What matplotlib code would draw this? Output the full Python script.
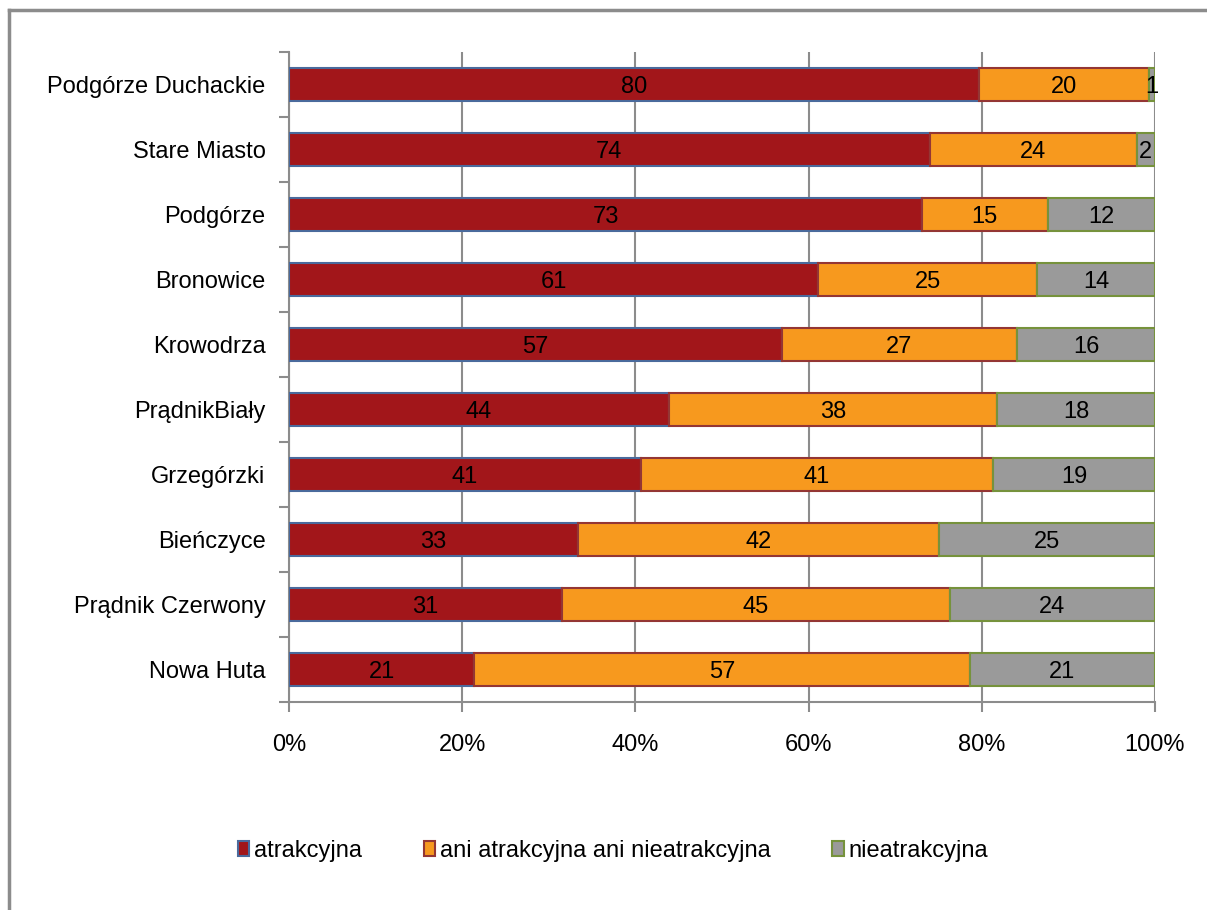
import matplotlib
matplotlib.use('Agg')
import matplotlib.pyplot as plt
from matplotlib.lines import Line2D
from matplotlib.ticker import FuncFormatter
import numpy as np

# Districts, top to bottom as drawn
districts = ['Podgórze Duchackie', 'Stare Miasto', 'Podgórze', 'Bronowice',
             'Krowodrza', 'PrądnikBiały', 'Grzegórzki', 'Bieńczyce',
             'Prądnik Czerwony', 'Nowa Huta']
# Shares (%)
atrakcyjna = [79.7, 74.0, 73.1, 61.1, 56.9, 43.9, 40.6, 33.4, 31.5, 21.4]
neutralna = [19.6, 23.9, 14.5, 25.3, 27.2, 37.9, 40.7, 41.7, 44.8, 57.2]
nieatrakcyjna = [0.7, 2.1, 12.4, 13.6, 15.9, 18.2, 18.7, 24.9, 23.7, 21.4]
# Labels printed in the bars
lab_a = [80, 74, 73, 61, 57, 44, 41, 33, 31, 21]
lab_n = [20, 24, 15, 25, 27, 38, 41, 42, 45, 57]
lab_x = [1, 2, 12, 14, 16, 18, 19, 25, 24, 21]

series = [
    ('atrakcyjna', atrakcyjna, lab_a, '#A2161A', '#4A6A9C'),
    ('ani atrakcyjna ani nieatrakcyjna', neutralna, lab_n, '#F7991E', '#943634'),
    ('nieatrakcyjna', nieatrakcyjna, lab_x, '#9A9A9A', '#76923C'),
]

FS = 17
plt.rcParams['font.family'] = ['Liberation Sans', 'DejaVu Sans']

fig = plt.figure(figsize=(12.07, 9.10), dpi=100)
ax = fig.add_axes([289 / 1207, 1 - 702 / 910, 866 / 1207, 650 / 910])

y = np.arange(len(districts))
left = np.zeros(len(districts))
for name, vals, labs, fc, ec in series:
    vals = np.array(vals)
    ax.barh(y, vals, left=left, height=0.52, color=fc, edgecolor=ec,
            linewidth=1.5, label=name, zorder=3)
    for yi, (l, v, t) in enumerate(zip(left, vals, labs)):
        ax.text(l + v / 2, yi, str(t), ha='center', va='center_baseline',
                fontsize=FS, color='black', zorder=4)
    left = left + vals

ax.set_xlim(0, 100)
ax.set_ylim(len(districts) - 0.5, -0.5)
ax.set_xticks(np.arange(0, 101, 20))
ax.xaxis.set_major_formatter(FuncFormatter(lambda v, p: '%d%%' % v))
ax.set_yticks(y)
ax.set_yticklabels(districts)
ax.set_yticks(np.arange(-0.5, len(districts), 1), minor=True)
ax.tick_params(axis='y', which='major', length=0, pad=17, labelsize=FS)
ax.tick_params(axis='y', which='minor', length=7, width=1.5, color='#8c8c8c')
ax.tick_params(axis='x', length=7, width=1.5, color='#8c8c8c',
               labelsize=FS, pad=16)
ax.grid(axis='x', color='#8c8c8c', linewidth=1.5, zorder=0)
for s in ['top', 'right']:
    ax.spines[s].set_visible(False)
for s in ['left', 'bottom']:
    ax.spines[s].set_color('#8c8c8c')
    ax.spines[s].set_linewidth(1.5)

handles, labels = ax.get_legend_handles_labels()
fig.legend(handles, labels, loc='center', bbox_to_anchor=(613 / 1207, 1 - 851 / 910),
           ncol=3, frameon=False, fontsize=FS, handlelength=0.5,
           handleheight=0.6, handletextpad=0.2, columnspacing=2.6)

# Outer chart frame (top and left edges visible)
fig.add_artist(Line2D([8.5 / 1207, 1], [1 - 9.5 / 910, 1 - 9.5 / 910],
                      transform=fig.transFigure, color='#8c8c8c', lw=2.5))
fig.add_artist(Line2D([8.5 / 1207, 8.5 / 1207], [0, 1 - 9.5 / 910],
                      transform=fig.transFigure, color='#8c8c8c', lw=2.5))

fig.savefig('out.png', dpi=100)
